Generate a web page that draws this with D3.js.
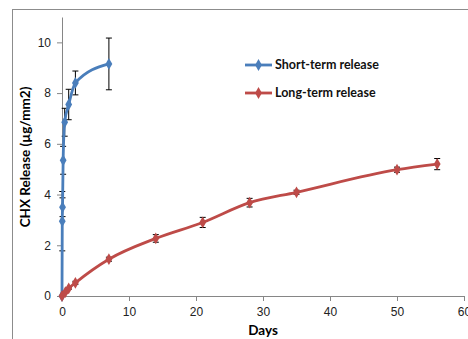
<!DOCTYPE html>
<html>
<head>
<meta charset="utf-8">
<script src="https://cdn.jsdelivr.net/npm/d3@7"></script>
<style>
  body { margin: 0; background: #fff; }
  svg { display: block; font-family: Lato, "Open Sans", sans-serif; }
</style>
</head>
<body>
<div id="chart"></div>
<script>
// short-term release (days, µg/mm2, error)
var shortDays = [0, 0.04, 0.08, 0.17, 0.4, 1, 2, 7]
var shortVals = [0, 2.95, 3.5, 5.35, 6.85, 7.55, 8.4, 9.15]
var shortErr = [0, 1.17, 0.37, 0.55, 0.55, 0.6, 0.47, 1.02]

// long-term release
var longDays = [0, 0.5, 1, 2, 7, 14, 21, 28, 35, 50, 56]
var longVals = [0, 0.15, 0.3, 0.52, 1.45, 2.27, 2.9, 3.68, 4.09, 4.98, 5.2]
var longErr = [0, 0.03, 0.04, 0.06, 0.08, 0.15, 0.2, 0.17, 0.08, 0.1, 0.22]

var xTicks = [0, 10, 20, 30, 40, 50, 60]
var yTicks = [0, 2, 4, 6, 8, 10]

var width = 468, height = 339
var margin = { top: 17, left: 62, bottom: 43, right: 4 }

var svg = d3.select("#chart").append("svg")
  .attr("width", width)
  .attr("height", height)

// chart frame
svg.append("rect")
  .attr("x", 12.5).attr("y", 9.5)
  .attr("width", 500).attr("height", 400)
  .attr("fill", "none")
  .attr("stroke", "#8c8c8c")

var x = d3.scaleLinear().domain([0, 60]).range([margin.left, width - margin.right])
var y = d3.scaleLinear().domain([0, 11]).range([height - margin.bottom, margin.top])

var xAxis = svg.append("g")
  .attr("transform", "translate(0," + y(0) + ")")
  .call(d3.axisBottom(x).tickValues(xTicks).tickSize(5).tickPadding(6).tickSizeOuter(0))
var yAxis = svg.append("g")
  .attr("transform", "translate(" + x(0) + ",0)")
  .call(d3.axisLeft(y).tickValues(yTicks).tickSize(5).tickPadding(6).tickSizeOuter(0))

;[xAxis, yAxis].forEach(function(a) {
  a.select(".domain").attr("stroke", "#868686")
  a.selectAll(".tick line").attr("stroke", "#868686")
  a.selectAll(".tick text").attr("fill", "#222").style("font-size", "12px")
})

svg.append("text")
  .attr("x", x(30)).attr("y", 335)
  .attr("text-anchor", "middle")
  .style("font-size", "13.5px").style("font-weight", "bold")
  .text("Days")

svg.append("text")
  .attr("transform", "translate(30," + 157 + ") rotate(-90)")
  .attr("text-anchor", "middle")
  .style("font-size", "13.5px").style("font-weight", "bold")
  .text("CHX Release  (µg/mm2)")

var series = [
  { name: "Short-term release", color: "#4a7ebb", days: shortDays, vals: shortVals, err: shortErr },
  { name: "Long-term release", color: "#be4b48", days: longDays, vals: longVals, err: longErr }
]

var line = d3.line()
  .x(function(d) { return x(d.x) })
  .y(function(d) { return y(d.y) })
  .curve(d3.curveMonotoneX)

var diamond = d3.symbol().type(d3.symbolDiamond).size(40)

series.forEach(function(s) {
  var pts = s.days.map(function(dx, i) { return { x: dx, y: s.vals[i], e: s.err[i] } })
  var g = svg.append("g")

  // error bars (behind the line)
  var eb = g.selectAll("g.err")
    .data(pts.filter(function(d) { return d.e > 0 }))
    .join("g")
      .attr("class", "err")
      .attr("stroke", "#000")
      .attr("stroke-width", 1)
  eb.append("line")
    .attr("x1", function(d) { return x(d.x) }).attr("x2", function(d) { return x(d.x) })
    .attr("y1", function(d) { return y(d.y - d.e) }).attr("y2", function(d) { return y(d.y + d.e) })
  eb.append("line")
    .attr("x1", function(d) { return x(d.x) - 3 }).attr("x2", function(d) { return x(d.x) + 3 })
    .attr("y1", function(d) { return y(d.y + d.e) }).attr("y2", function(d) { return y(d.y + d.e) })
  eb.append("line")
    .attr("x1", function(d) { return x(d.x) - 3 }).attr("x2", function(d) { return x(d.x) + 3 })
    .attr("y1", function(d) { return y(d.y - d.e) }).attr("y2", function(d) { return y(d.y - d.e) })

  g.append("path")
    .datum(pts)
    .attr("d", line)
    .attr("fill", "none")
    .attr("stroke", s.color)
    .attr("stroke-width", 2.8)

  g.selectAll("path.mk")
    .data(pts)
    .join("path")
      .attr("class", "mk")
      .attr("d", diamond)
      .attr("transform", function(d) { return "translate(" + x(d.x) + "," + y(d.y) + ")" })
      .attr("fill", s.color)
})

// legend
var legend = svg.append("g")
  .selectAll("g")
  .data(series)
  .join("g")
    .attr("transform", function(d, i) { return "translate(245," + (65 + i * 28) + ")" })
legend.append("line")
  .attr("x1", 0).attr("x2", 27)
  .attr("stroke", function(d) { return d.color })
  .attr("stroke-width", 2.8)
legend.append("path")
  .attr("d", diamond)
  .attr("transform", "translate(13.5,0)")
  .attr("fill", function(d) { return d.color })
legend.append("text")
  .attr("x", 30).attr("dy", "0.35em")
  .style("font-size", "12.5px").style("font-weight", "bold")
  .attr("fill", "#111")
  .text(function(d) { return d.name })
</script>
</body>
</html>
